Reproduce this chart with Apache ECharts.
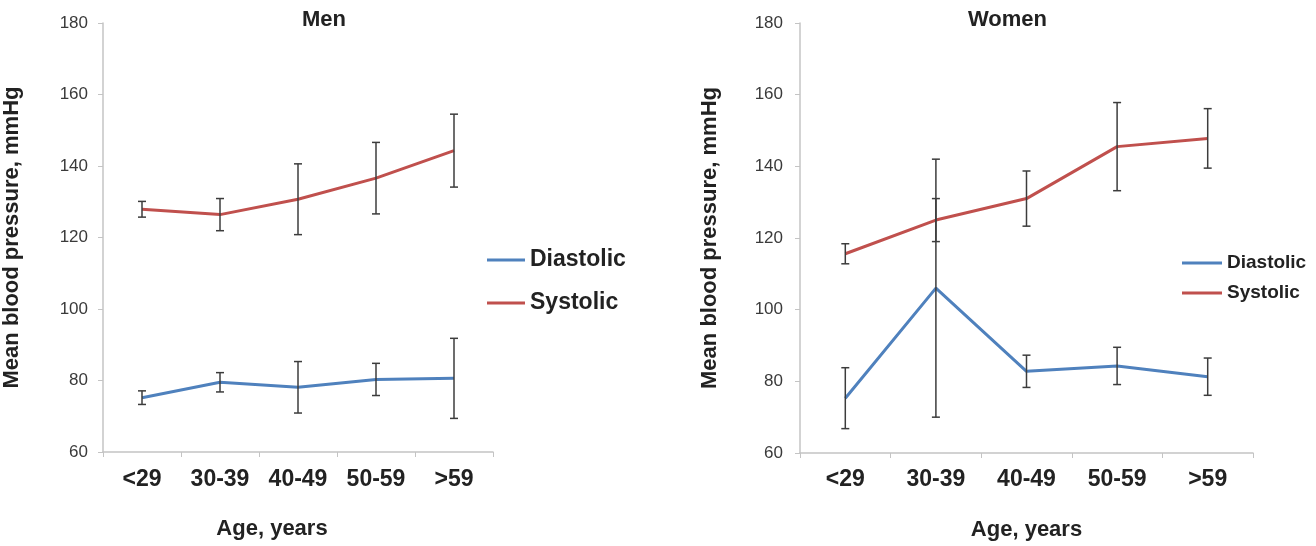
<!DOCTYPE html>
<html>
<head>
<meta charset="utf-8">
<script src="https://cdn.jsdelivr.net/npm/echarts@6/dist/echarts.min.js"></script>
<style>
html,body{margin:0;padding:0;background:#fff;}
#chart{width:1316px;height:546px;}
</style>
</head>
<body>
<div id="chart"></div>
<script>
// ---- data ----
const categories = ['<29', '30-39', '40-49', '50-59', '>59'];
const yTickValues = [60, 80, 100, 120, 140, 160, 180];

const menDiastolic = [75.2, 79.5, 78.1, 80.3, 80.6];
const menDiastolicErr = [1.9, 2.7, 7.2, 4.5, 11.2];
const menSystolic = [127.9, 126.4, 130.7, 136.6, 144.3];
const menSystolicErr = [2.2, 4.5, 9.9, 10.0, 10.2];

const womenDiastolic = [75.3, 106.0, 82.8, 84.3, 81.3];
const womenDiastolicErr = [8.5, 36.0, 4.5, 5.2, 5.2];
const womenSystolic = [115.6, 125.0, 131.0, 145.5, 147.8];
const womenSystolicErr = [2.8, 6.0, 7.7, 12.3, 8.3];

const panelTitles = ['Men', 'Women'];
const seriesNames = ['Diastolic', 'Systolic'];
const yAxisTitle = 'Mean blood pressure, mmHg';
const xAxisTitle = 'Age, years';

// ---- styling ----
const BLUE = '#4f81bd';
const RED = '#c0504d';
const FONT = '"Liberation Sans", Arial, sans-serif';
const AXIS_COLOR = '#c4c4c4';

function errData(vals, errs) {
  return vals.map((v, i) => [i, v - errs[i], v + errs[i]]);
}

function errorRender(params, api) {
  const x = api.value(0);
  const top = api.coord([x, api.value(2)]);
  const bot = api.coord([x, api.value(1)]);
  const w = 4;
  const st = { stroke: '#3c3c3c', lineWidth: 1.5 };
  return {
    type: 'group',
    children: [
      { type: 'line', shape: { x1: top[0], y1: top[1], x2: bot[0], y2: bot[1] }, style: st },
      { type: 'line', shape: { x1: top[0] - w, y1: top[1], x2: top[0] + w, y2: top[1] }, style: st },
      { type: 'line', shape: { x1: bot[0] - w, y1: bot[1], x2: bot[0] + w, y2: bot[1] }, style: st }
    ]
  };
}

function xAxisCfg(gridIndex, labelMargin, namePad) {
  return {
    type: 'category', gridIndex, data: categories, boundaryGap: true,
    axisLine: { lineStyle: { color: AXIS_COLOR, width: 1.5 } },
    axisTick: { show: true, interval: 0, length: 5, lineStyle: { color: AXIS_COLOR } },
    axisLabel: { interval: 0, margin: labelMargin, fontSize: 23, fontWeight: 'bold', color: '#222', fontFamily: FONT },
    splitLine: { show: false },
    name: xAxisTitle, nameLocation: 'middle', nameGap: 66,
    nameTextStyle: { fontSize: 22, fontWeight: 'bold', color: '#222', fontFamily: FONT, padding: namePad }
  };
}

function yAxisCfg(gridIndex, labelMargin, nameGap) {
  return {
    type: 'value', gridIndex,
    min: yTickValues[0], max: yTickValues[yTickValues.length - 1],
    interval: yTickValues[1] - yTickValues[0],
    axisLine: { show: true, lineStyle: { color: AXIS_COLOR, width: 1.5 } },
    axisTick: { show: true, length: 5, lineStyle: { color: AXIS_COLOR } },
    axisLabel: { margin: labelMargin, fontSize: 17, fontWeight: 'normal', color: '#3a3a3a', fontFamily: FONT },
    splitLine: { show: false },
    name: yAxisTitle, nameLocation: 'middle', nameRotate: 90, nameGap: nameGap,
    nameTextStyle: { fontSize: 22, fontWeight: 'bold', color: '#222', fontFamily: FONT }
  };
}

function lineSeries(name, data, color, idx) {
  return {
    type: 'line', name, data, xAxisIndex: idx, yAxisIndex: idx,
    showSymbol: false, symbol: 'none', smooth: false,
    lineStyle: { color, width: 3 }, itemStyle: { color }, z: 2
  };
}

function errSeries(data, idx) {
  return {
    type: 'custom', xAxisIndex: idx, yAxisIndex: idx,
    data, renderItem: errorRender, encode: { x: 0, y: [1, 2] }, z: 3, silent: true
  };
}

const chart = echarts.init(document.getElementById('chart'), null, { renderer: 'canvas' });

chart.setOption({
  backgroundColor: '#fff',
  animation: false,
  textStyle: { fontFamily: FONT },
  title: [
    { text: panelTitles[0], left: 302, top: 9, padding: 0,
      textStyle: { fontSize: 22, fontWeight: 'bold', color: '#222', fontFamily: FONT } },
    { text: panelTitles[1], left: 968, top: 9, padding: 0,
      textStyle: { fontSize: 22, fontWeight: 'bold', color: '#222', fontFamily: FONT } }
  ],
  legend: [
    { data: seriesNames, orient: 'vertical', left: 487, top: 248, padding: 0,
      icon: 'rect', itemWidth: 38, itemHeight: 3, itemGap: 19,
      textStyle: { fontSize: 23, fontWeight: 'bold', color: '#222', fontFamily: FONT, lineHeight: 24 } },
    { data: seriesNames, orient: 'vertical', left: 1182, top: 253, padding: 0,
      icon: 'rect', itemWidth: 40, itemHeight: 3, itemGap: 10,
      textStyle: { fontSize: 19, fontWeight: 'bold', color: '#222', fontFamily: FONT, lineHeight: 20 } }
  ],
  grid: [
    { left: 103, right: 1316 - 493, top: 23, bottom: 546 - 452 },
    { left: 800, right: 1316 - 1253, top: 23, bottom: 546 - 455 }
  ],
  xAxis: [xAxisCfg(0, 16, [0, 52, 0, 0]), xAxisCfg(1, 15, [0, 0, 0, 0])],
  yAxis: [yAxisCfg(0, 15, 80), yAxisCfg(1, 17, 79)],
  series: [
    lineSeries(seriesNames[0], menDiastolic, BLUE, 0),
    lineSeries(seriesNames[1], menSystolic, RED, 0),
    errSeries(errData(menDiastolic, menDiastolicErr), 0),
    errSeries(errData(menSystolic, menSystolicErr), 0),
    lineSeries(seriesNames[0], womenDiastolic, BLUE, 1),
    lineSeries(seriesNames[1], womenSystolic, RED, 1),
    errSeries(errData(womenDiastolic, womenDiastolicErr), 1),
    errSeries(errData(womenSystolic, womenSystolicErr), 1)
  ]
});
</script>
</body>
</html>
